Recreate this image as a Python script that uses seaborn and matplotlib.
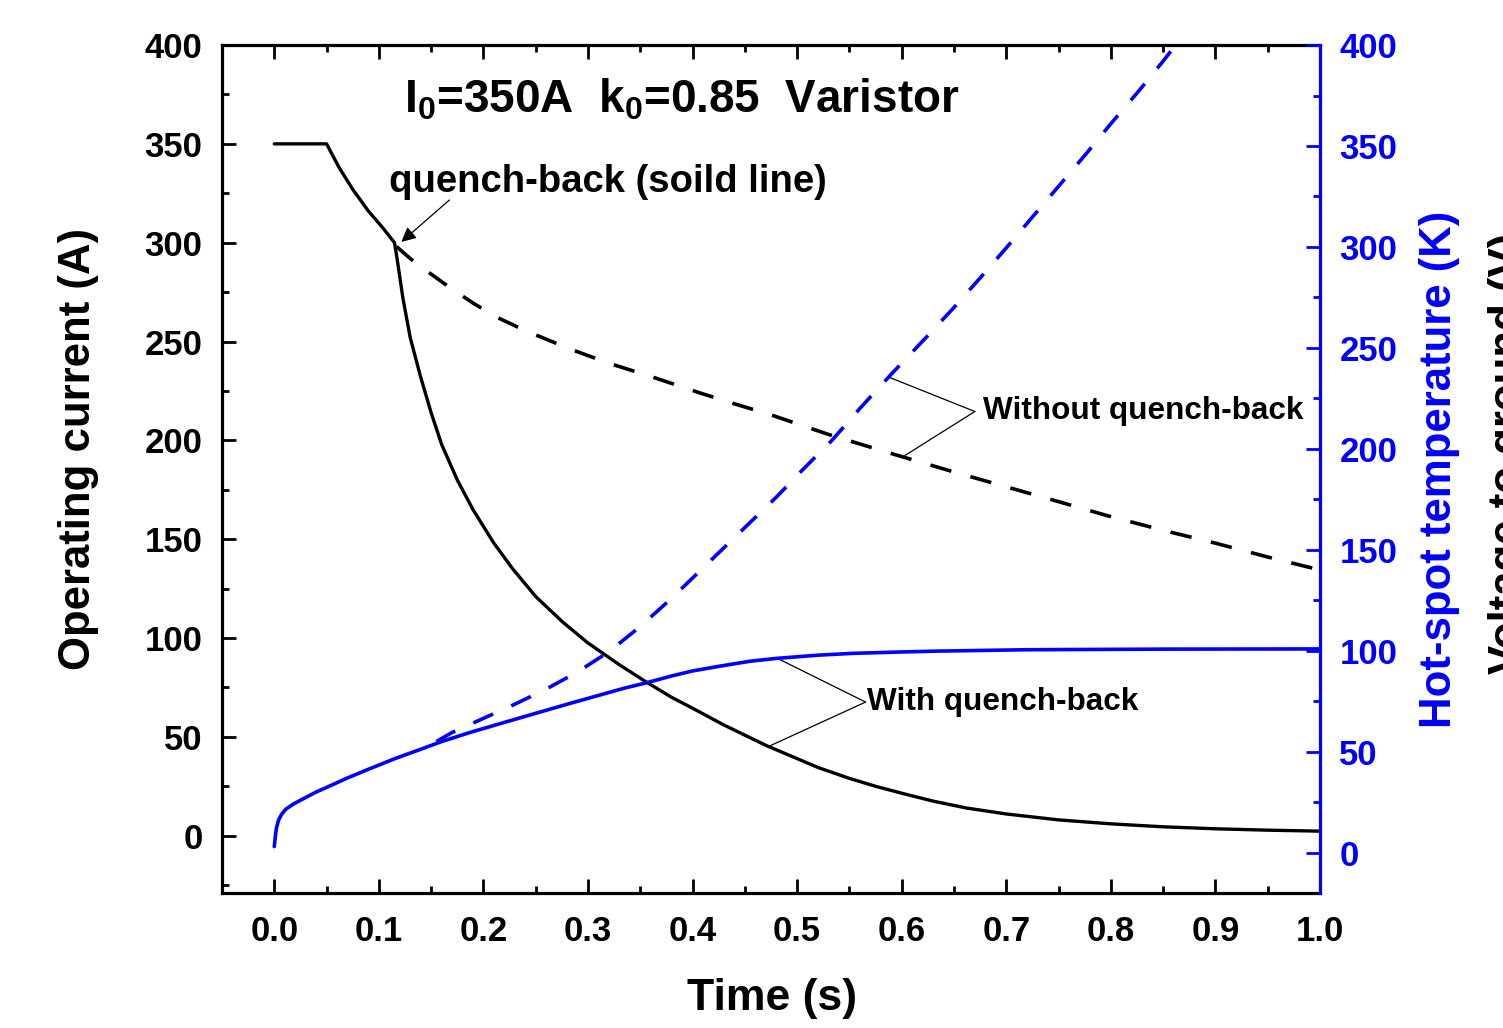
import matplotlib
matplotlib.use('Agg')
import matplotlib.pyplot as plt
import pandas as pd
import seaborn as sns
from matplotlib.ticker import MultipleLocator, FormatStrFormatter

# operating current with quench-back (solid black)
t_cur_qb = [0.0, 0.05, 0.062, 0.075, 0.09, 0.103, 0.115, 0.118, 0.123, 0.13, 0.14, 0.15, 0.16,
            0.175, 0.19, 0.21, 0.228, 0.25, 0.276, 0.30, 0.33, 0.355, 0.38, 0.40, 0.43, 0.471,
            0.50, 0.52, 0.55, 0.575, 0.60, 0.63, 0.662, 0.70, 0.75, 0.80, 0.85, 0.90, 0.95, 1.0]
cur_qb = [350, 350, 338, 327, 316, 308, 300, 290, 272, 252, 232, 214, 198,
          180, 165, 148, 135, 121, 108, 97.5, 86.5, 78, 70, 64.5, 56, 45.5,
          39, 34.5, 29, 25, 21.5, 17.5, 14, 11, 8, 6, 4.5, 3.5, 2.8, 2.3]

# operating current without quench-back (dashed black)
t_cur_nqb = [0.117, 0.13, 0.145, 0.17, 0.19, 0.212, 0.24, 0.285, 0.32, 0.362, 0.407, 0.44,
             0.475, 0.53, 0.591, 0.65, 0.70, 0.75, 0.796, 0.85, 0.90, 0.95, 0.988, 1.0]
cur_nqb = [298, 292, 286, 276.5, 269.5, 262.5, 255.5, 245.8, 239, 232, 224, 218.5,
           212.9, 203, 193.2, 184, 176.5, 169, 162, 154.5, 148, 141, 136, 134.5]

# hot-spot temperature with quench-back (solid blue)
t_tmp_qb = [0.0, 0.001, 0.002, 0.004, 0.007, 0.011, 0.018, 0.027, 0.04, 0.053, 0.07, 0.091,
            0.115, 0.139, 0.16, 0.187, 0.22, 0.25, 0.28, 0.311, 0.335, 0.355, 0.38, 0.40,
            0.43, 0.455, 0.48, 0.52, 0.553, 0.60, 0.632, 0.72, 0.85, 1.0]
tmp_qb = [3, 8, 12, 16, 19, 21.5, 24, 26.5, 30, 33, 37, 41.5,
          46.5, 51, 55, 59.5, 64.5, 69, 73.5, 78, 81.5, 84, 87.5, 90,
          92.7, 94.8, 96.2, 97.8, 98.7, 99.4, 99.8, 100.5, 100.8, 100.9]

# hot-spot temperature without quench-back (dashed blue)
t_tmp_nqb = [0.155, 0.17, 0.2, 0.23, 0.26, 0.29, 0.32, 0.35, 0.38, 0.407, 0.43, 0.455,
             0.48, 0.506, 0.533, 0.56, 0.591, 0.624, 0.65, 0.675, 0.70, 0.725, 0.75, 0.777,
             0.80, 0.828, 0.85, 0.862]
tmp_nqb = [55, 59.5, 66.5, 73.5, 81, 89.5, 99.5, 112, 126, 139.5, 151, 163.5,
           176, 190, 204, 220, 237.5, 255.5, 270, 284.6, 299.5, 314.8, 330, 346.5,
           361, 378, 392, 400]

sns.set_theme(style='ticks')
plt.rcParams['font.family'] = ['Liberation Sans', 'DejaVu Sans']
plt.rcParams['font.weight'] = 'bold'
plt.rcParams['text.color'] = 'black'
plt.rcParams['axes.labelcolor'] = 'black'
plt.rcParams['xtick.color'] = 'black'
plt.rcParams['ytick.color'] = 'black'
plt.rcParams['mathtext.fontset'] = 'custom'
plt.rcParams['mathtext.rm'] = 'Liberation Sans'
plt.rcParams['mathtext.it'] = 'Liberation Sans'
plt.rcParams['mathtext.bf'] = 'Liberation Sans:bold'

BLUE = '#0000FF'

fig, ax1 = plt.subplots(figsize=(15.03, 10.28), dpi=100)
fig.subplots_adjust(left=0.1477, right=0.8782, top=0.9562, bottom=0.1313)
ax2 = ax1.twinx()

# current curves
df1 = pd.DataFrame({'t': t_cur_qb, 'I': cur_qb})
df2 = pd.DataFrame({'t': t_cur_nqb, 'I': cur_nqb})
sns.lineplot(data=df1, x='t', y='I', ax=ax1, color='black', lw=2.4, estimator=None)
sns.lineplot(data=df2, x='t', y='I', ax=ax1, color='black', lw=2.6, estimator=None,
             linestyle=(0, (6.0, 5.5)))

# temperature curves
df3 = pd.DataFrame({'t': t_tmp_qb, 'T': tmp_qb})
df4 = pd.DataFrame({'t': t_tmp_nqb, 'T': tmp_nqb})
sns.lineplot(data=df3, x='t', y='T', ax=ax2, color=BLUE, lw=2.6, estimator=None)
sns.lineplot(data=df4, x='t', y='T', ax=ax2, color=BLUE, lw=2.6, estimator=None,
             linestyle=(0, (6.0, 5.5)))

ax1.set_xlim(-0.05, 1.0)
ax1.set_ylim(-29, 400)
ax2.set_ylim(-20, 400)

ax1.xaxis.set_major_locator(MultipleLocator(0.1))
ax1.xaxis.set_minor_locator(MultipleLocator(0.05))
ax1.xaxis.set_major_formatter(FormatStrFormatter('%.1f'))
ax1.yaxis.set_major_locator(MultipleLocator(50))
ax1.yaxis.set_minor_locator(MultipleLocator(25))
ax2.yaxis.set_major_locator(MultipleLocator(50))
ax2.yaxis.set_minor_locator(MultipleLocator(25))

# spines
for s in ['left', 'top', 'bottom']:
    ax1.spines[s].set_linewidth(2.3)
    ax1.spines[s].set_color('black')
    ax2.spines[s].set_visible(False)
ax1.spines['right'].set_visible(False)
ax2.spines['right'].set_color(BLUE)
ax2.spines['right'].set_linewidth(2.3)

ax1.tick_params(axis='both', which='both', direction='in', top=True, right=False,
                color='black', labelcolor='black', width=2.0)
ax1.tick_params(axis='both', which='major', length=10, labelsize=25, pad=14)
ax1.tick_params(axis='both', which='minor', length=5)
ax1.tick_params(axis='x', which='major', pad=16)
ax2.tick_params(axis='y', which='both', direction='in', color=BLUE, labelcolor=BLUE, width=2.0)
ax2.tick_params(axis='y', which='major', length=10, labelsize=25, pad=14)
ax2.tick_params(axis='y', which='minor', length=5)

for lab in ax1.get_xticklabels() + ax1.get_yticklabels() + ax2.get_yticklabels():
    lab.set_fontweight('bold')

# axis labels
ax1.set_xlabel('Time (s)', fontsize=32, fontweight='bold', color='black')
ax1.xaxis.set_label_coords(0.501, -0.124)
ax1.xaxis.label.set(va='center', ha='center')
ax1.set_ylabel('Operating current (A)', fontsize=31.5, fontweight='bold', color='black')
ax1.yaxis.set_label_coords(-0.131, 0.524)
ax1.yaxis.label.set(va='center', ha='center')
ax2.set_ylabel('Hot-spot temperature (K)', fontsize=31.5, fontweight='bold', color=BLUE)
ax2.yaxis.set_label_coords(1.109, 0.499)
ax2.yaxis.label.set(va='center', ha='center')

# third axis label, cut off at the right edge as in the source figure
fig.text(1488 / 1503, 1 - 453 / 1028, 'Voltage to ground (V)', rotation=90,
         ha='left', va='center', fontsize=31.5, fontweight='bold', color='black')

# annotations
ax1.text(0.124, 366, r'I$_0$=350A  k$_0$=0.85  Varistor', fontsize=33,
         fontweight='bold', va='baseline', ha='left', color='black')
ax1.text(0.110, 325.7, 'quench-back (soild line)', fontsize=27.5,
         fontweight='bold', va='baseline', ha='left', color='black')
ax1.annotate('', xy=(0.1215, 300.4), xytext=(0.1675, 321.6),
             arrowprops=dict(arrowstyle='-|>', color='black', lw=0.9,
                             mutation_scale=22, shrinkA=0, shrinkB=0))

ax1.text(0.6775, 210.9, 'Without quench-back', fontsize=22.7, fontweight='bold',
         va='baseline', ha='left', color='black')
line_kw = dict(arrowstyle='-', color='black', lw=0.9, shrinkA=0, shrinkB=0)
ax1.annotate('', xy=(0.5876, 232), xytext=(0.67, 214.6), arrowprops=line_kw)
ax1.annotate('', xy=(0.603, 192.3), xytext=(0.67, 214.6), arrowprops=line_kw)

ax1.text(0.567, 63.5, 'With quench-back', fontsize=22.7, fontweight='bold',
         va='baseline', ha='left', color='black')
ax1.annotate('', xy=(0.482, 89.5), xytext=(0.5655, 67.6), arrowprops=line_kw)
ax1.annotate('', xy=(0.4717, 44.9), xytext=(0.5655, 67.6), arrowprops=line_kw)

plt.savefig('out.png', dpi=100)
